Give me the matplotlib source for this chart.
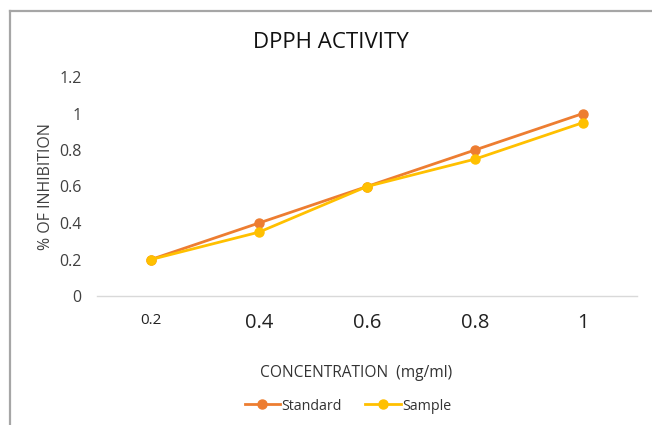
import matplotlib
matplotlib.use("Agg")
import matplotlib.pyplot as plt
from matplotlib.lines import Line2D

categories = ["0.2", "0.4", "0.6", "0.8", "1"]
standard = [0.2, 0.4, 0.6, 0.8, 1.0]
sample = [0.2, 0.35, 0.6, 0.75, 0.95]
yticks = [0, 0.2, 0.4, 0.6, 0.8, 1, 1.2]
ytick_labels = ["0", "0.2", "0.4", "0.6", "0.8", "1", "1.2"]

plt.rcParams['font.family'] = ['Open Sans', 'DejaVu Sans']

W, H = 652, 425
fig = plt.figure(figsize=(W/100, H/100), dpi=100)
ax = fig.add_axes([97/W, 1-296/H, 540/W, 219/H])

x = list(range(len(categories)))
ax.plot(x, standard, color="#ED7D31", lw=2.0, marker="o", ms=6.5, label="Standard", zorder=3)
ax.plot(x, sample, color="#FFC000", lw=2.0, marker="o", ms=6.5, label="Sample", zorder=4)

ax.set_xlim(-0.5, len(categories)-0.5)
ax.set_ylim(0, 1.2)
ax.set_yticks(yticks)
ax.set_yticklabels(ytick_labels, fontsize=11.5, color="#404040")
ax.set_xticks(x)
ax.set_xticklabels(categories, color="#222222")
for i, lab in enumerate(ax.get_xticklabels()):
    if i == 0:
        lab.set_fontsize(11)
    else:
        lab.set_fontsize(14.5)
ax.tick_params(axis="both", length=0)
ax.tick_params(axis="y", pad=11)
ax.tick_params(axis="x", pad=12)
for s in ["top", "right", "left"]:
    ax.spines[s].set_visible(False)
ax.spines["bottom"].set_color("#D9D9D9")
ax.spines["bottom"].set_linewidth(1.0)

fig.text(331/W, 1-42/H, "DPPH ACTIVITY", ha="center", va="center", fontsize=16, color="#111111")
fig.text(46/W, 1-187/H, "% OF INHIBITION", ha="center", va="center", rotation=90, fontsize=11.5, color="#404040")
fig.text(356/W, 1-373/H, "CONCENTRATION  (mg/ml)", ha="center", va="center", fontsize=11.2, color="#333333")

leg = fig.legend(loc="center", bbox_to_anchor=(348/W, 1-406/H), ncol=2, frameon=False,
                 fontsize=10.3, handlelength=2.5, handletextpad=0.1, columnspacing=1.6)
for t in leg.get_texts():
    t.set_color("#333333")

# outer border (top and left)
fig.add_artist(Line2D([9.5/W, 9.5/W], [0, 1-10.5/H], transform=fig.transFigure, color="#A6A6A6", lw=1.6))
fig.add_artist(Line2D([9.5/W, 1], [1-10.5/H, 1-10.5/H], transform=fig.transFigure, color="#A6A6A6", lw=1.6))

fig.savefig("out.png", dpi=100)
